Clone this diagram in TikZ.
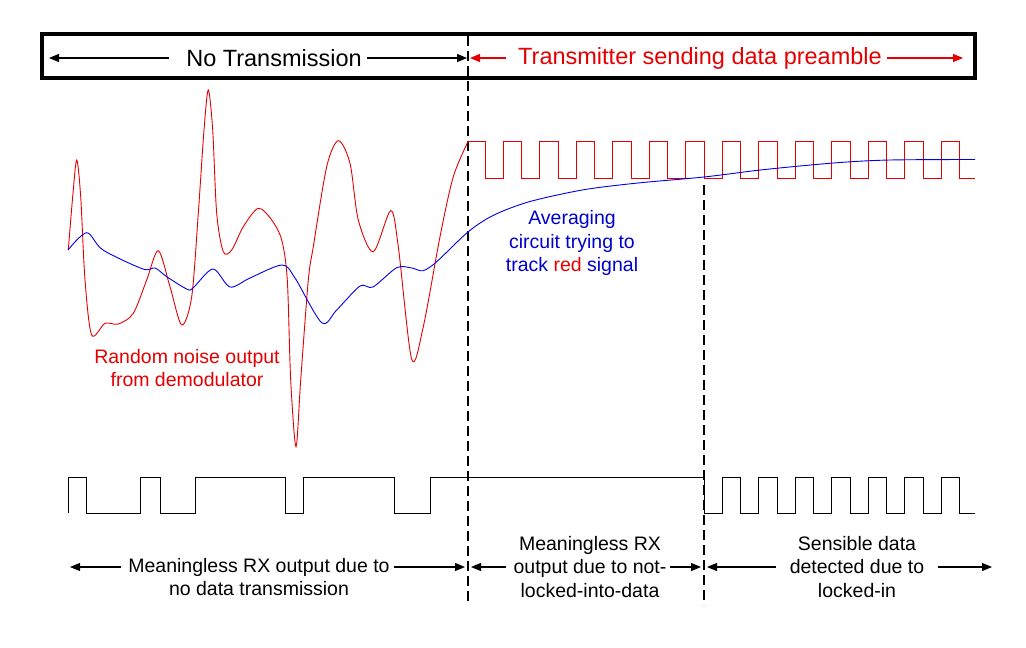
\documentclass[tikz,border=0pt]{standalone}
\usepackage{fontspec}
\setmainfont{Liberation Sans}
\usetikzlibrary{arrows.meta}
\definecolor{sigred}{RGB}{228,0,0}
\definecolor{sigblue}{RGB}{0,0,235}
\definecolor{txtblue}{RGB}{0,0,205}
\tikzset{
  dim/.style={line width=1.1pt,-{Triangle[length=10pt,width=8pt]}},
  sep/.style={line width=1.2pt,dash pattern=on 10pt off 5pt},
  sigline/.style={line width=0.9pt},
  hdtext/.style={font=\fontsize{23.5}{28}\selectfont,inner xsep=5pt,inner ysep=0pt},
  lbl/.style={font=\fontsize{19.5}{23.5}\selectfont,align=center,inner sep=0pt}
}
\begin{document}
\begin{tikzpicture}[x=1pt,y=-1pt]
  \useasboundingbox (0,0) rectangle (1026,648);
  % header bar
  \draw[line width=4pt] (42,34) rectangle (975,78);
  \node[hdtext] (nonetx) at (274,58) {No Transmission};
  \node[hdtext,text=sigred] (txpre) at (700,58) {Transmitter sending data preamble};
  \coordinate (hdL) at (49,0);  \coordinate (hdM) at (467,0);
  \coordinate (hdN) at (470,0); \coordinate (hdR) at (963,0);
  \draw[dim] ([xshift=-12pt]nonetx.west) -- (nonetx.west -| hdL);
  \draw[dim] (nonetx.east) -- (nonetx.east -| hdM);
  \draw[dim,sigred] ([xshift=-7pt]txpre.west) -- (txpre.west -| hdN);
  \draw[dim,sigred] (txpre.east) -- (txpre.east -| hdR);
  % separators
  \draw[sep] (468,36) -- (468,605);
  \draw[sep] (704,185) -- (704,605);
  % demodulator output: noise, then preamble
  \draw[sigline,sigred] plot[smooth] coordinates {
    (68.3,250) (72.7,196.7) (76.7,160) (80.7,196.7) (85,280) (91.7,335)
    (105,323.3) (118.3,324) (133.3,313.3) (146.7,280) (158.3,250.7) (170,286.7)
    (181.7,325) (191.7,296.7) (198.3,213.3) (204,130) (208.3,90) (212.7,130)
    (216.7,213.3) (223.3,251.7) (231.7,250) (243.3,226.7) (258.3,208.3) (271.7,220)
    (281.7,240) (287.3,280) (290.7,380) (296,446.7) (300.7,380) (308.3,280)
    (313.3,246.7) (326.7,166.7) (338.3,140.7)
    (350,163.3) (358.3,220) (373.3,251.7) (390.7,210.7) (398.3,246.7) (411.7,359.3)
    (423.3,326.7) (440,236.7) (453.3,176.7) (468.3,141)};
  \draw[sigline,sigred] (468.3,141)
    \foreach \k in {0,...,12}{ -- ({485+36.5*\k},141) -- ({485+36.5*\k},178)
      -- ({503+36.5*\k},178) -- ({503+36.5*\k},141)}
    -- (959.5,141) -- (959.5,178) -- (975,178);
  % averaging circuit
  \draw[sigline,sigblue] plot[smooth] coordinates {
    (68,250) (86.7,232.7) (103,250) (143,269) (155,268) (166.7,276.7) (186.7,289)
    (193,288) (213,269) (230,287) (250,278) (282,265) (295,278)
    (321.7,322.7) (336.7,310) (360,286) (373,287) (396.7,267.7) (411.7,268)
    (423,270.7) (436.7,261.7) (468.3,231.7) (494,215) (530,201.5) (584,189.7)
    (638,183) (704,177) (764,169.6) (836,162.8) (890,160) (975,159.5)};
  \node[lbl,text=sigred] (noise) at (187,368) {Random noise output\\from demodulator};
  \node[lbl,text=txtblue] (avg) at (572,243) {Averaging\\circuit trying to\\track \textcolor{sigred}{red} signal};
  % receiver output
  \draw[sigline,line width=1pt] (68,513) -- (68,477) -- (86.7,477) -- (86.7,513)
    -- (140.7,513) -- (140.7,477) -- (160,477) -- (160,513) -- (195,513) -- (195,477)
    -- (285.7,477) -- (285.7,513) -- (303.3,513) -- (303.3,477) -- (394.3,477)
    -- (394.3,513) -- (430,513) -- (430,477) -- (704,477) -- (704,513)
    \foreach \k in {6,...,12}{ -- ({503+36.5*\k},513) -- ({503+36.5*\k},477)
      -- ({521.5+36.5*\k},477) -- ({521.5+36.5*\k},513)}
    -- (975,513);
  \node[lbl] (rxnoise) at (259,577) {Meaningless RX output due to\\no data transmission};
  \node[lbl] (rxwait) at (590,567) {Meaningless RX\\output due to not-\\locked-into-data};
  \node[lbl] (rxlock) at (857,567) {Sensible data\\detected due to\\locked-in};
  \draw[dim] (121,567) -- (70,567);
  \draw[dim] (394,567) -- (465,567);
  \draw[dim] (506,567) -- (471,567);
  \draw[dim] (670,567) -- (701,567);
  \draw[dim] (776,567) -- (707,567);
  \draw[dim] (938,567) -- (992,567);
\end{tikzpicture}
\end{document}
